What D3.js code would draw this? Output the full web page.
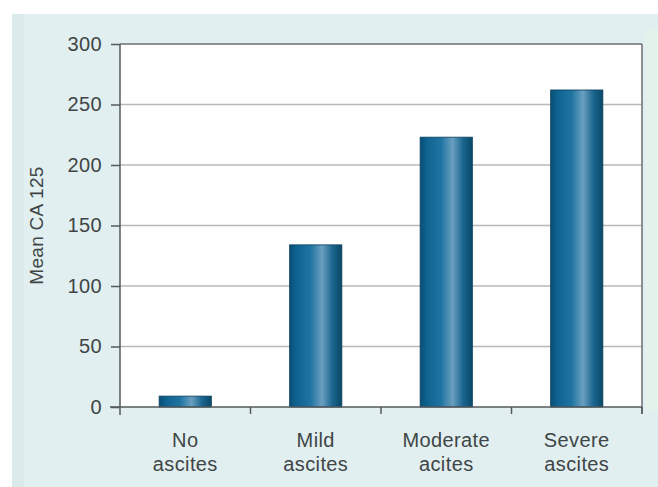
<!DOCTYPE html>
<html>
<head>
<meta charset="utf-8">
<script src="https://cdn.jsdelivr.net/npm/d3@7"></script>
<style>
  html, body { margin: 0; padding: 0; background: #fff; }
  svg { display: block; }
</style>
</head>
<body>
<svg id="chart" width="658" height="487"></svg>
<script>
// Mean CA 125 by ascites grade
const categories = [["No", "ascites"], ["Mild", "ascites"], ["Moderate", "acites"], ["Severe", "ascites"]];
const meanCA125 = [9, 134, 223, 262];
const yTicks = [0, 50, 100, 150, 200, 250, 300];

const W = 658, H = 487;
const margin = { left: 120, top: 44, right: 16, bottom: 80 };
const plotW = 642 - margin.left, plotH = 407 - margin.top;

const svg = d3.select("#chart");
const font = "Liberation Sans, Arial, sans-serif";
const textColor = "#404546";

// gradient for the cylindrical look of the bars
const defs = svg.append("defs");
const grad = defs.append("linearGradient").attr("id", "barGrad")
  .attr("x1", "0%").attr("x2", "100%").attr("y1", "0%").attr("y2", "0%");
[[0, "#0a4e74"], [0.12, "#0d6290"], [0.4, "#1f74a2"], [0.62, "#6a9fbf"], [0.82, "#1a6690"], [1, "#094866"]]
  .forEach(([o, c]) => grad.append("stop").attr("offset", o).attr("stop-color", c));

// panel background
svg.append("rect").attr("x", 12).attr("y", 14).attr("width", W - 12).attr("height", H - 14).attr("fill", "#e1eff0");
svg.append("rect").attr("x", 12).attr("y", 14).attr("width", 12).attr("height", H - 14).attr("fill", "#dbebec");
svg.append("rect").attr("x", 645).attr("y", 30).attr("width", 13).attr("height", 380).attr("fill", "#e3f3ec");

const x = d3.scaleBand().domain(d3.range(categories.length))
  .range([margin.left, margin.left + plotW]).paddingInner(0.6).paddingOuter(0.3);
const y = d3.scaleLinear().domain([0, 300]).range([margin.top + plotH, margin.top]);

// plot area
svg.append("rect").attr("x", margin.left).attr("y", margin.top).attr("width", plotW).attr("height", plotH).attr("fill", "#fefefe");

// gridlines
svg.append("g").selectAll("line").data(yTicks.filter(t => t > 0 && t < 300)).join("line")
  .attr("x1", margin.left).attr("x2", margin.left + plotW)
  .attr("y1", d => y(d)).attr("y2", d => y(d))
  .attr("stroke", "#b9b9b9").attr("stroke-width", 1.5);

// top and right borders
svg.append("line").attr("x1", margin.left).attr("x2", margin.left + plotW)
  .attr("y1", y(300)).attr("y2", y(300)).attr("stroke", "#6a6f70").attr("stroke-width", 1.5);
svg.append("line").attr("x1", margin.left + plotW).attr("x2", margin.left + plotW)
  .attr("y1", y(300)).attr("y2", y(0) + 7).attr("stroke", "#6a6f70").attr("stroke-width", 1.5);

// bars
svg.append("g").selectAll("rect").data(meanCA125).join("rect")
  .attr("x", (d, i) => x(i)).attr("width", x.bandwidth())
  .attr("y", d => y(d)).attr("height", d => y(0) - y(d))
  .attr("fill", "url(#barGrad)").attr("stroke", "#0a3f5c").attr("stroke-width", 0.8);

// y axis
const yAxis = svg.append("g").attr("transform", `translate(${margin.left},0)`)
  .call(d3.axisLeft(y).tickValues(yTicks).tickSize(9).tickPadding(9));
yAxis.select(".domain").attr("d", `M0,${y(300)}V${y(0) + 8}`).attr("stroke", "#555a5b").attr("stroke-width", 1.5);
yAxis.selectAll(".tick line").attr("stroke", "#555a5b").attr("stroke-width", 1.5);
yAxis.selectAll(".tick text").attr("font-family", font).attr("font-size", 20)
  .attr("letter-spacing", 0.4).attr("fill", textColor);

// x axis with ticks at category boundaries
const xAxisG = svg.append("g");
xAxisG.append("line").attr("x1", margin.left - 10).attr("x2", margin.left + plotW)
  .attr("y1", y(0)).attr("y2", y(0)).attr("stroke", "#555a5b").attr("stroke-width", 1.5);
const step = x.step();
const bounds = d3.range(1, categories.length + 1).map(i => x(i - 1) + x.bandwidth() / 2 + step / 2);
xAxisG.selectAll("line.tk").data(bounds).join("line").attr("class", "tk")
  .attr("x1", d => d).attr("x2", d => d).attr("y1", y(0)).attr("y2", y(0) + 7)
  .attr("stroke", "#555a5b").attr("stroke-width", 1.5);

// category labels
const lbl = svg.append("g").selectAll("text").data(categories).join("text")
  .attr("x", (d, i) => x(i) + x.bandwidth() / 2).attr("y", 447)
  .attr("text-anchor", "middle").attr("font-family", font).attr("font-size", 20)
  .attr("letter-spacing", 0.4).attr("fill", textColor);
lbl.selectAll("tspan").data(d => d).join("tspan")
  .attr("x", function () { return this.parentNode.getAttribute("x"); })
  .attr("dy", (d, i) => i === 0 ? 0 : 24).text(d => d);

// axis title
svg.append("text").attr("transform", `translate(43,${margin.top + plotH / 2}) rotate(-90)`)
  .attr("text-anchor", "middle").attr("font-family", font).attr("font-size", 19)
  .attr("letter-spacing", 0.3).attr("fill", textColor)
  .text("Mean CA 125");
</script>
</body>
</html>
